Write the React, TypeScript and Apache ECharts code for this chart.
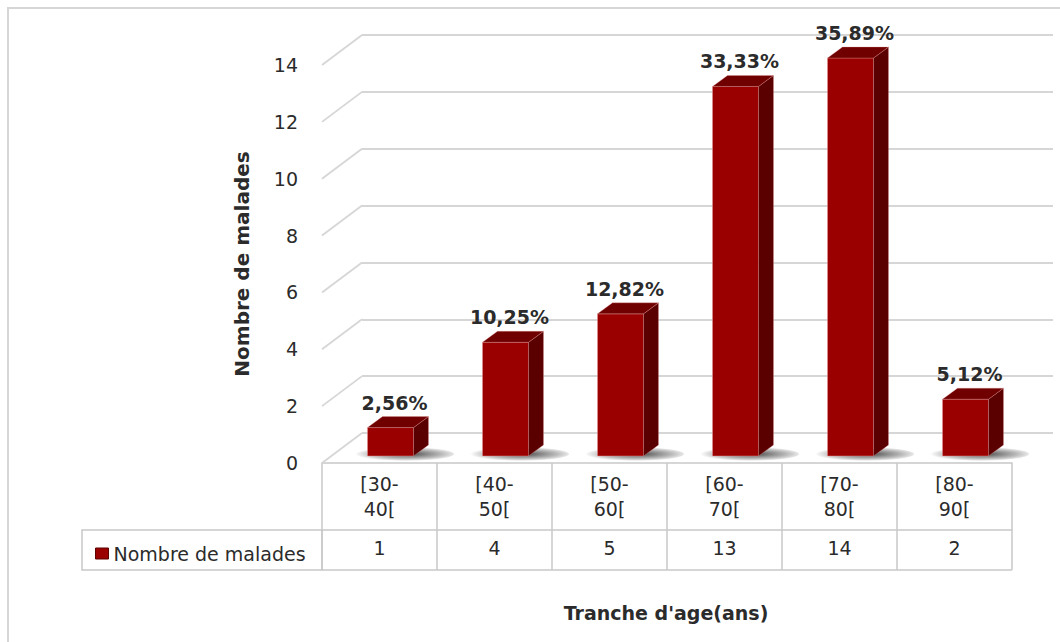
import React, { useEffect, useRef } from "react";
import * as echarts from "echarts";

// Age brackets and number of patients per bracket
const categories = ["[30-40[", "[40-50[", "[50-60[", "[60-70[", "[70-80[", "[80-90["];
const patients = [1, 4, 5, 13, 14, 2];
// Share of all patients (%) shown above each column
const shares = [2.56, 10.25, 12.82, 33.33, 35.89, 5.12];
const yTicks = [0, 2, 4, 6, 8, 10, 12, 14];

const SERIES_NAME = "Nombre de malades";
const FONT = "DejaVu Sans";
const TEXT = "#2b2b2b";
const GRID_LINE = "#d6d6d6";
const TABLE_LINE = "#c8c8c8";

// pseudo-3D geometry
const WALL_DX = 40; // front plane -> back wall
const WALL_DY = -30;
const OX = 11; // column placement inside the depth
const OY = -7;
const DX = 15; // column depth
const DY = -11;

const FRONT = { left: 322, top: 65, width: 690, height: 398 };

export default function App() {
  const ref = useRef<HTMLDivElement>(null);

  useEffect(() => {
    document.body.style.margin = "0";
    const chart = echarts.init(ref.current!, undefined, { renderer: "svg" });

    const shadowFill = new echarts.graphic.RadialGradient(0.55, 0.5, 0.5, [
      { offset: 0, color: "rgba(20,20,20,0.8)" },
      { offset: 0.5, color: "rgba(40,40,40,0.45)" },
      { offset: 1, color: "rgba(0,0,0,0)" },
    ]);

    chart.setOption({
      animation: false,
      backgroundColor: "#ffffff",
      textStyle: { fontFamily: FONT },
      grid: [
        { ...FRONT },
        {
          left: FRONT.left + WALL_DX,
          top: FRONT.top + WALL_DY,
          width: FRONT.width + 1,
          height: FRONT.height,
        },
      ],
      legend: {
        left: 90,
        top: 539,
        icon: "rect",
        itemWidth: 13,
        itemHeight: 11,
        itemGap: 6,
        selectedMode: false,
        data: [{ name: SERIES_NAME, itemStyle: { color: "#9a0000", borderColor: "#5c0000", borderWidth: 1 } }],
        textStyle: { fontFamily: FONT, fontSize: 19, color: TEXT, padding: [0, 0, 0, 0] },
      },
      xAxis: [
        {
          gridIndex: 0,
          type: "category",
          data: categories,
          axisLine: { lineStyle: { color: TABLE_LINE, width: 1.5 } },
          axisTick: { show: true, interval: 0, length: 107, lineStyle: { color: TABLE_LINE, width: 1.5 } },
          axisLabel: {
            interval: 0,
            margin: 8,
            fontSize: 19,
            lineHeight: 25,
            color: TEXT,
            fontFamily: FONT,
            formatter: (s: string) => s.replace("-", "-\n"),
          },
        },
        {
          gridIndex: 0,
          type: "category",
          data: categories,
          position: "bottom",
          offset: 67,
          axisLine: { lineStyle: { color: TABLE_LINE, width: 1.5 } },
          axisTick: { show: false },
          axisLabel: {
            interval: 0,
            margin: 8,
            fontSize: 19,
            color: TEXT,
            fontFamily: FONT,
            formatter: (_: string, idx: number) => String(patients[idx]),
          },
        },
        { gridIndex: 1, type: "category", data: categories, show: false },
      ],
      yAxis: [
        {
          gridIndex: 0,
          type: "value",
          min: 0,
          max: 14,
          interval: 2,
          splitLine: { show: false },
          axisLine: { show: false },
          axisTick: { show: false },
          axisLabel: { margin: 24, fontSize: 19, color: TEXT, fontFamily: FONT },
          name: SERIES_NAME,
          nameLocation: "middle",
          nameGap: 70,
          nameRotate: 90,
          nameTextStyle: { fontSize: 20, fontWeight: "bold", color: TEXT, fontFamily: FONT },
        },
        {
          gridIndex: 1,
          type: "value",
          min: 0,
          max: 14,
          interval: 2,
          axisLabel: { show: false },
          axisLine: { show: false },
          axisTick: { show: false },
          splitLine: { show: true, lineStyle: { color: GRID_LINE, width: 1.8 } },
        },
      ],
      series: [
        {
          // left edges of the floor and of each gridline
          type: "custom",
          xAxisIndex: 0,
          yAxisIndex: 0,
          silent: true,
          z: 1,
          data: yTicks.map((v) => [0, v]),
          encode: { x: 0, y: 1 },
          renderItem: (params: any, api: any) => {
            const y = api.coord([0, api.value(1)])[1];
            const x = params.coordSys.x;
            return {
              type: "line",
              shape: { x1: x, y1: y, x2: x + WALL_DX, y2: y + WALL_DY },
              style: { stroke: GRID_LINE, lineWidth: 1.8 },
            };
          },
        },
        {
          name: SERIES_NAME,
          type: "custom",
          xAxisIndex: 0,
          yAxisIndex: 0,
          z: 5,
          itemStyle: { color: "#9a0000" },
          data: patients.map((v, i) => [i, v]),
          encode: { x: 0, y: 1 },
          renderItem: (_params: any, api: any) => {
            const i = api.value(0);
            const v = api.value(1);
            const top = api.coord([i, v]);
            const base = api.coord([i, 0]);
            const bw = api.size([1, 0])[0] * 0.4;
            const x0 = top[0] - bw / 2 + OX;
            const x1 = x0 + bw;
            const yT = top[1] + OY;
            const yB = base[1] + OY;
            const label = shares[i].toFixed(2).replace(".", ",") + "%";
            return {
              type: "group",
              children: [
                {
                  type: "ellipse",
                  shape: { cx: (x0 + x1 + DX) / 2 + 4, cy: yB - 2, rx: bw / 2 + DX + 14, ry: 7 },
                  style: { fill: shadowFill },
                },
                {
                  type: "rect",
                  shape: { x: x0, y: yT, width: bw, height: yB - yT },
                  style: { fill: "#9a0000", stroke: "rgba(230,150,150,0.6)", lineWidth: 0.8 },
                },
                {
                  type: "polygon",
                  shape: {
                    points: [
                      [x1, yT],
                      [x1 + DX, yT + DY],
                      [x1 + DX, yB + DY],
                      [x1, yB],
                    ],
                  },
                  style: { fill: "#5a0000", stroke: "rgba(230,150,150,0.5)", lineWidth: 0.6 },
                },
                {
                  type: "polygon",
                  shape: {
                    points: [
                      [x0, yT],
                      [x0 + DX, yT + DY],
                      [x1 + DX, yT + DY],
                      [x1, yT],
                    ],
                  },
                  style: { fill: "#700000", stroke: "rgba(230,150,150,0.5)", lineWidth: 0.6 },
                },
                {
                  type: "text",
                  style: {
                    x: (x0 + x1) / 2 + 4,
                    y: yT + DY - 14,
                    text: label,
                    align: "center",
                    verticalAlign: "middle",
                    fontFamily: FONT,
                    fontSize: 19,
                    fontWeight: "bold",
                    fill: TEXT,
                  },
                },
              ],
            };
          },
        },
      ],
      graphic: [
        {
          type: "rect",
          silent: true,
          shape: { x: 8, y: 8, width: 1100, height: 700 },
          style: { fill: "none", stroke: GRID_LINE, lineWidth: 2 },
        },
        {
          type: "rect",
          silent: true,
          shape: { x: 82, y: 530, width: 240, height: 40 },
          style: { fill: "none", stroke: TABLE_LINE, lineWidth: 1.5 },
        },
        {
          type: "line",
          silent: true,
          shape: { x1: 322, y1: 570, x2: 1012, y2: 570 },
          style: { stroke: TABLE_LINE, lineWidth: 1.5 },
        },
        {
          type: "text",
          silent: true,
          x: 666,
          y: 613,
          style: {
            text: "Tranche d'age(ans)",
            align: "center",
            verticalAlign: "middle",
            fontFamily: FONT,
            fontSize: 19,
            fontWeight: "bold",
            fill: TEXT,
          },
        },
      ],
    });

    return () => chart.dispose();
  }, []);

  return <div ref={ref} style={{ width: 1060, height: 642 }} />;
}
